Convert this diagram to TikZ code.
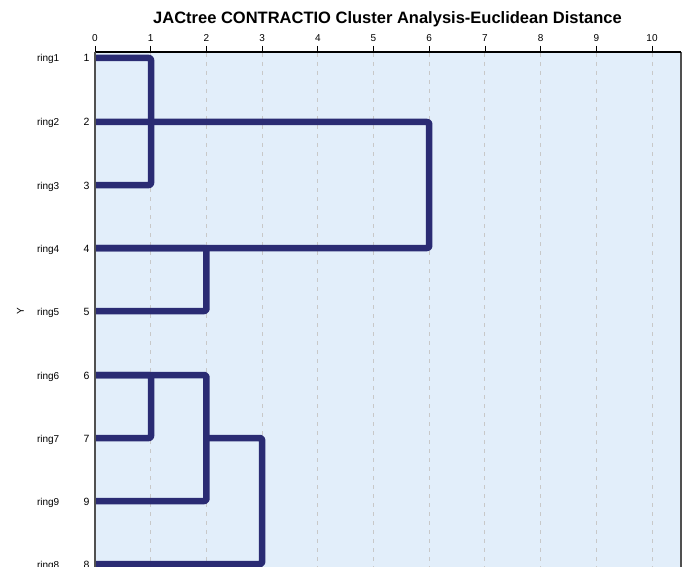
\documentclass[tikz,border=0pt]{standalone}
\usepackage{fontspec}
\setmainfont{Liberation Sans}
\definecolor{plotbg}{HTML}{E2EEFA}
\definecolor{treeblue}{HTML}{2A2B73}
\definecolor{gridgray}{HTML}{C8C8C8}
\definecolor{axisgray}{HTML}{505050}
\begin{document}
\begin{tikzpicture}[x=1pt,y=-1pt,
  branch/.style={draw=treeblue,line width=6.5pt,line join=round,line cap=butt,rounded corners=2pt},
  gridline/.style={draw=gridgray,line width=0.9pt,dash pattern=on 4pt off 5pt},
  ticklabel/.style={font=\fontsize{10}{12}\selectfont,anchor=base},
  rowlabel/.style={font=\fontsize{10}{12}\selectfont,anchor=base west},
  rownum/.style={font=\fontsize{10.5}{12}\selectfont,anchor=base east}]
\useasboundingbox (0,0) rectangle (685,567);
% plot area
\fill[plotbg] (95,52) rectangle (681,567);
\foreach \i in {1,...,10} \draw[gridline] ({95+55.7*\i},53) -- ({95+55.7*\i},567);
\draw[axisgray,line width=1.2pt] (681,52) -- (681,567);
\draw[black,line width=1.2pt] (95,52) -- (681,52);
% top axis ticks and labels
\foreach \i in {0,...,10} {
  \draw[black,line width=0.8pt] ({95+55.7*\i},46) -- ({95+55.7*\i},52);
  \node[ticklabel] (t\i) at ({95+55.7*\i},42) {\i};
}
\node[font=\bfseries\fontsize{16.5}{19}\selectfont,anchor=base] (title) at (387.5,24) {JACtree CONTRACTIO Cluster Analysis-Euclidean Distance};
% leaves: name, row y, label
\foreach \n/\y/\t in {1/58/1,2/122/2,3/185/3,4/248/4,5/311/5,6/375/6,7/438/7,9/501/9,8/564/8} {
  \coordinate (leaf\n) at (95,\y);
  \node[rowlabel] (lab\n) at (33.5,\y+4) {ring\t};
  \node[rownum] (num\n) at (93,\y+4) {\t};
}
\node[rotate=90,font=\fontsize{10}{12}\selectfont] (yaxis) at (20.5,311.5) {Y};
% merge points
\coordinate (m13) at (151,121.5);
\coordinate (m45) at (206.4,279.5);
\coordinate (m67) at (151,406.5);
\coordinate (m679) at (206.4,438);
% tree branches
\draw[branch] (leaf1) -| (m13) |- (leaf3);
\draw[branch] (leaf2) -- (429.2,122) |- (leaf4);
\draw[branch] (leaf4) -| (m45) |- (leaf5);
\draw[branch] (leaf6) -- (206.4,375) |- (leaf9);
\draw[branch] (leaf7) -| (m67) |- (leaf6);
\draw[branch] (m679) -- (262.1,438) |- (leaf8);
% left axis line on top of the branch ends
\draw[axisgray,line width=1.6pt] (95,52) -- (95,567);
\end{tikzpicture}
\end{document}
